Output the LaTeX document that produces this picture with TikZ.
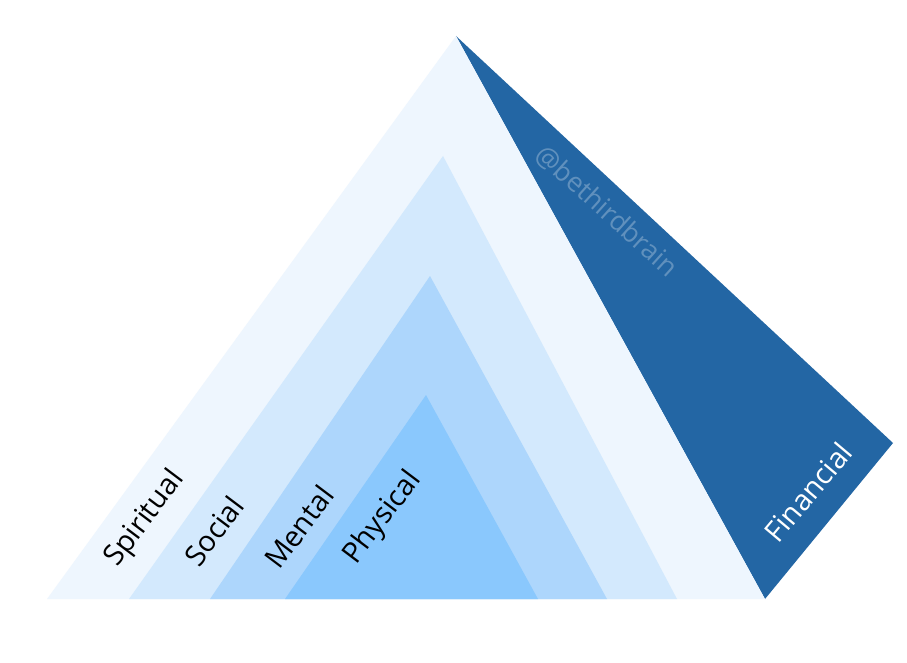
\documentclass[tikz,border=0pt]{standalone}
\usepackage{fontspec}
\setmainfont{Open Sans}
\definecolor{cSpirit}{HTML}{EEF6FE}
\definecolor{cSocial}{HTML}{D3E9FD}
\definecolor{cMental}{HTML}{ADD6FC}
\definecolor{cPhys}{HTML}{8AC8FD}
\definecolor{cFin}{HTML}{2366A4}
\begin{document}
\begin{tikzpicture}[x=1bp,y=-1bp,
  lbl/.style={font=\fontsize{29}{34}\selectfont, text=black, inner sep=0pt, rotate=53},
  finlbl/.style={font=\fontsize{29}{34}\selectfont, text=white, inner sep=0pt, rotate=50},
  wm/.style={font=\fontsize{27}{32}\selectfont, text=white, text opacity=0.28, inner sep=0pt, rotate=-42}]
\useasboundingbox (0,0) rectangle (907,663);
\fill[white] (0,0) rectangle (907,663);
% Financial
\fill[cFin] (456,36) -- (893,443) -- (765,599) -- cycle;
% nested layers
\fill[cSpirit] (456,36) -- (765,599) -- (47,599) -- cycle;
\fill[cSocial] (443,156) -- (677,599) -- (129,599) -- cycle;
\fill[cMental] (430,276) -- (607,599) -- (210,599) -- cycle;
\fill[cPhys] (426,395) -- (538,599) -- (285,599) -- cycle;
% labels
\node[lbl] (spiritual) at (145,519) {Spiritual};
\node[lbl] (social) at (214,531) {Social};
\node[lbl] (mental) at (299,527) {Mental};
\node[lbl] (physical) at (383,518) {Physical};
\node[finlbl] (financial) at (808,492) {Financial};
\node[wm] (watermark) at (607,211) {@bethirdbrain};
\end{tikzpicture}
\end{document}
